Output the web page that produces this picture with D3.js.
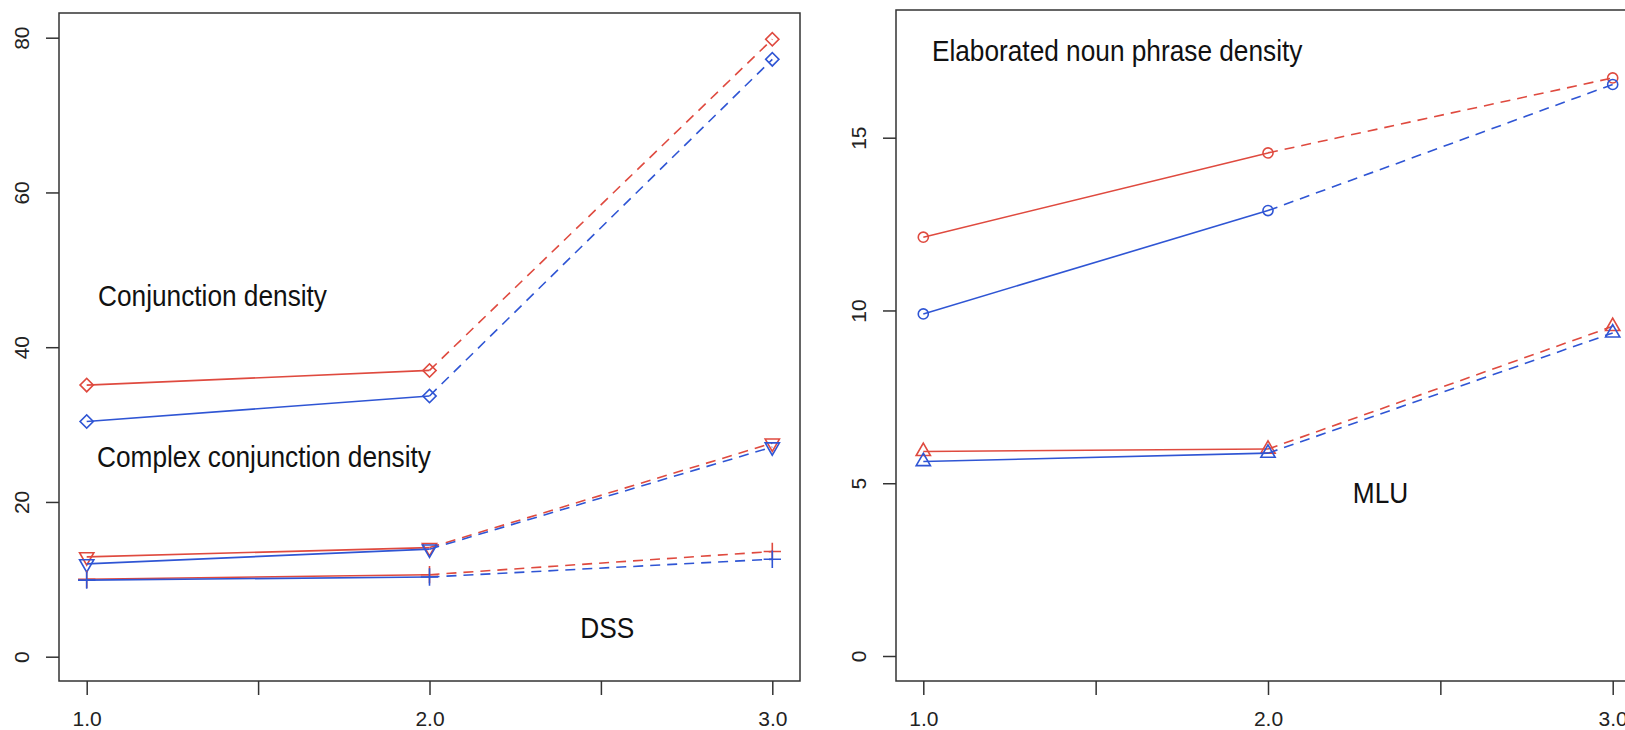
<!DOCTYPE html>
<html>
<head>
<meta charset="utf-8">
<script src="https://cdn.jsdelivr.net/npm/d3@7"></script>
<style>
  body { margin: 0; background: #fff; }
  .tick text { font-family: "Liberation Sans", Arial, sans-serif; font-size: 21px; fill: #222; }
  .note { font-family: "Liberation Sans", Arial, sans-serif; font-size: 30px; fill: #111; }
</style>
</head>
<body>
<div id="vis"></div>
<script>
// grade levels on x
var grades = [1, 2, 3];
var xTicks = [1, 1.5, 2, 2.5, 3];
var leftYTicks = [0, 20, 40, 60, 80];
var rightYTicks = [0, 5, 10, 15];

// left panel series
var conjRed = [35.1, 37.0, 79.8];
var conjBlue = [30.4, 33.7, 77.2];
var complexRed = [12.9, 14.1, 27.6];
var complexBlue = [12.0, 13.9, 27.1];
var dssRed = [10.0, 10.6, 13.6];
var dssBlue = [9.9, 10.3, 12.6];

// right panel series
var enpRed = [12.12, 14.56, 16.73];
var enpBlue = [9.9, 12.89, 16.54];
var mluRed = [5.92, 5.99, 9.54];
var mluBlue = [5.63, 5.87, 9.35];

var red = '#df4a3f';
var blue = '#2f55d4';

var svg = d3.select('#vis')
  .append('svg')
  .attr('width', 1625)
  .attr('height', 730);

function markerPath(shape) {
  if (shape === 'diamond') return d3.symbol().type(d3.symbolSquare).size(88)();
  if (shape === 'circle') return d3.symbol().type(d3.symbolCircle).size(80)();
  if (shape === 'plus') return d3.symbol().type(d3.symbolPlus).size(100)();
  return d3.symbol().type(d3.symbolTriangle).size(88)();
}

function markerRotate(shape) {
  if (shape === 'diamond') return 45;
  if (shape === 'down') return 180;
  return 0;
}

function drawSeries(g, x, y, values, color, shape) {
  var pts = values.map(function (v, i) { return { x: grades[i], y: v }; });
  var line = d3.line()
    .x(function (d) { return x(d.x); })
    .y(function (d) { return y(d.y); });

  g.append('path')
    .attr('d', line(pts.slice(0, 2)))
    .attr('fill', 'none')
    .attr('stroke', color)
    .attr('stroke-width', 1.6);

  g.append('path')
    .attr('d', line(pts.slice(1, 3)))
    .attr('fill', 'none')
    .attr('stroke', color)
    .attr('stroke-width', 1.6)
    .attr('stroke-dasharray', '10,7');

  g.selectAll(null)
    .data(pts)
    .enter().append('path')
    .attr('d', markerPath(shape))
    .attr('transform', function (d) {
      return 'translate(' + x(d.x) + ',' + y(d.y) + ') rotate(' + markerRotate(shape) + ')';
    })
    .attr('fill', 'none')
    .attr('stroke', color)
    .attr('stroke-width', 1.6);
}

function drawPanel(p) {
  var g = svg.append('g');
  var x = d3.scaleLinear().domain([1, 3]).range([p.x1, p.x3]);
  var y = d3.scaleLinear().domain([0, p.yTop]).range([p.y0, p.yTopPx]);

  // frame
  g.append('rect')
    .attr('x', p.left)
    .attr('y', p.top)
    .attr('width', p.right - p.left)
    .attr('height', p.bottom - p.top)
    .attr('fill', 'none')
    .attr('stroke', '#333')
    .attr('stroke-width', 1.5);

  var yAxis = g.append('g')
    .attr('transform', 'translate(' + p.left + ',0)')
    .call(d3.axisLeft(y).tickValues(p.yTicks).tickSize(13).tickSizeOuter(0));
  yAxis.select('.domain').remove();
  yAxis.selectAll('.tick line').attr('stroke', '#333').attr('stroke-width', 1.5);
  yAxis.selectAll('.tick text')
    .attr('transform', 'rotate(-90)')
    .attr('x', 0)
    .attr('y', -30)
    .attr('dy', 0)
    .attr('text-anchor', 'middle');

  var xAxis = g.append('g')
    .attr('transform', 'translate(0,' + p.bottom + ')')
    .call(d3.axisBottom(x).tickValues(xTicks).tickSize(14).tickPadding(16)
      .tickFormat(function (d) { return d % 1 === 0 ? d3.format('.1f')(d) : ''; }));
  xAxis.select('.domain').remove();
  xAxis.selectAll('.tick line').attr('stroke', '#333').attr('stroke-width', 1.5);

  p.series.forEach(function (s) {
    drawSeries(g, x, y, s.values, s.color, s.shape);
  });

  // condensed annotation labels
  p.notes.forEach(function (n) {
    g.append('text')
      .attr('class', 'note')
      .attr('transform', 'translate(' + x(n.gx) + ',' + y(n.gy) + ') scale(0.875,1)')
      .text(n.text);
  });
}

drawPanel({
  left: 59, right: 800, top: 13, bottom: 681,
  x1: 86.7, x3: 772.3, y0: 656.7, yTopPx: 37.7, yTop: 80,
  yTicks: leftYTicks,
  series: [
    { values: conjRed, color: red, shape: 'diamond' },
    { values: conjBlue, color: blue, shape: 'diamond' },
    { values: complexRed, color: red, shape: 'down' },
    { values: complexBlue, color: blue, shape: 'down' },
    { values: dssRed, color: red, shape: 'plus' },
    { values: dssBlue, color: blue, shape: 'plus' }
  ],
  notes: [
    { text: 'Conjunction density', gx: 1.033, gy: 45.3 },
    { text: 'Complex conjunction density', gx: 1.03, gy: 24.5 },
    { text: 'DSS', gx: 2.44, gy: 2.4 }
  ]
});

drawPanel({
  left: 896, right: 1640, top: 10, bottom: 681,
  x1: 923.3, x3: 1612.7, y0: 656, yTopPx: 137.7, yTop: 15,
  yTicks: rightYTicks,
  series: [
    { values: enpRed, color: red, shape: 'circle' },
    { values: enpBlue, color: blue, shape: 'circle' },
    { values: mluRed, color: red, shape: 'up' },
    { values: mluBlue, color: blue, shape: 'up' }
  ],
  notes: [
    { text: 'Elaborated noun phrase density', gx: 1.025, gy: 17.23 },
    { text: 'MLU', gx: 2.246, gy: 4.43 }
  ]
});
</script>
</body>
</html>
